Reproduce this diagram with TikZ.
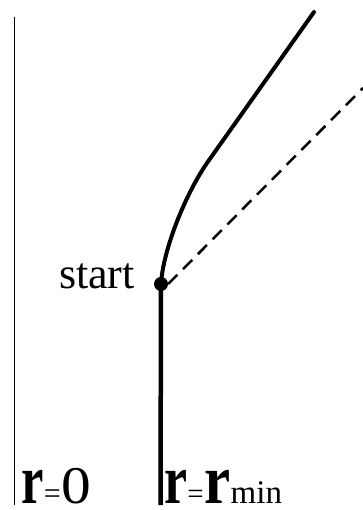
\documentclass[tikz,border=0pt]{standalone}
\usepackage{fontspec}
\setmainfont{Liberation Serif}
\begin{document}
\begin{tikzpicture}[x=1pt,y=-1pt,
  thinline/.style={line width=1.6pt},
  thickline/.style={line width=4.5pt},
  curveline/.style={line width=4pt,line cap=round},
  dashline/.style={line width=2.5pt,dash pattern=on 13pt off 8pt},
  dotnode/.style={circle,fill=black,minimum size=14pt,inner sep=0pt},
  lbl/.style={inner sep=0pt,anchor=base west}]
\useasboundingbox (0,0) rectangle (363,510);
% lines
\coordinate (leftTop) at (14.5,17);
\coordinate (leftBot) at (14.5,505);
\coordinate (rminBot) at (160.5,505);
\coordinate (kink) at (207,163);
\coordinate (topEnd) at (314,12);
\coordinate (dashEnd) at (363,88);
\node[dotnode] (start) at (161,284) {};
\draw[thinline] (leftTop) -- (leftBot);
\draw[thickline] (rminBot) -- (start.center);
\draw[curveline] (start.center) .. controls (163,250) and (185,195) .. (kink) -- (topEnd);
\draw[dashline] (start.east) -- (dashEnd);
% start label
\node[inner sep=0pt,anchor=base east] (startlbl) at (135,288) {\fontsize{44}{44}\selectfont start};
% r=0
\node[lbl] (r1) at (21,503) {\scalebox{0.72}[1]{\fontsize{70}{70}\selectfont\bfseries r}};
\node[lbl] (eq1) at (43.6,503) {\fontsize{30}{30}\selectfont =};
\node[lbl] (zero) at (61,503) {\scalebox{1.12}[1]{\fontsize{53}{53}\selectfont 0}};
% r=rmin
\node[lbl] (r2) at (164,503) {\scalebox{0.74}[1]{\fontsize{70}{70}\selectfont\bfseries r}};
\node[lbl] (eq2) at (187.2,503) {\fontsize{29}{29}\selectfont =};
\node[lbl] (r3) at (204,503) {\scalebox{0.84}[1]{\fontsize{70}{70}\selectfont\bfseries r}};
\node[lbl] (min) at (230.5,503) {\fontsize{33}{33}\selectfont min};
\end{tikzpicture}
\end{document}
